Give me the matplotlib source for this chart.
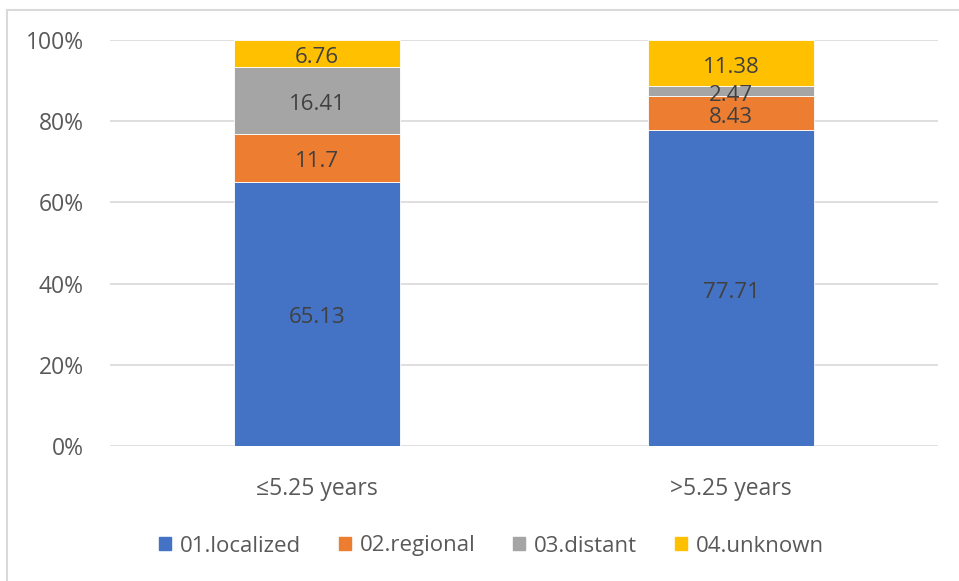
import matplotlib
matplotlib.use("Agg")
import matplotlib.pyplot as plt
from matplotlib.lines import Line2D
import numpy as np

categories = ["≤5.25 years", ">5.25 years"]
series_names = ["01.localized", "02.regional", "03.distant", "04.unknown"]
localized = [65.13, 77.71]
regional = [11.7, 8.43]
distant = [16.41, 2.47]
unknown = [6.76, 11.38]
label_text = {
    "01.localized": ["65.13", "77.71"],
    "02.regional": ["11.7", "8.43"],
    "03.distant": ["16.41", "2.47"],
    "04.unknown": ["6.76", "11.38"],
}
colors = ["#4472C4", "#ED7D31", "#A5A5A5", "#FFC000"]

plt.rcParams['font.family'] = ['Open Sans', 'DejaVu Sans']

fig = plt.figure(figsize=(9.59, 5.81), dpi=100)
W, H = 959, 581
ax = fig.add_axes([110 / W, 1 - 446 / H, (938 - 110) / W, (446 - 40) / H])

data = np.array([localized, regional, distant, unknown], dtype=float)
totals = data.sum(axis=0)
frac = data / totals
x = np.arange(len(categories))
bottom = np.zeros(len(categories))
for i, name in enumerate(series_names):
    bars = ax.bar(x, frac[i], bottom=bottom, width=0.4, color=colors[i],
                  edgecolor="white", linewidth=0.6, zorder=3, label=name)
    for j, b in enumerate(bars):
        ax.annotate(label_text[name][j], (x[j], bottom[j] + frac[i][j] / 2),
                    xytext=(0, -3), textcoords="offset points",
                    ha="center", va="center", fontsize=16, color="#404040", zorder=4)
    bottom += frac[i]

ax.set_xlim(-0.5, 1.5)
ax.set_ylim(0, 1)
ax.set_yticks(np.arange(0, 1.01, 0.2))
ax.set_yticklabels([f"{int(round(v*100))}%" for v in np.arange(0, 1.01, 0.2)])
ax.set_xticks(x)
ax.set_xticklabels(categories)
ax.tick_params(axis="both", length=0, labelsize=16.5, labelcolor="#595959")
ax.tick_params(axis="y", pad=19)
ax.tick_params(axis="x", pad=22)
ax.grid(axis="y", color="#D9D9D9", linewidth=1.2, zorder=0)
for s in ax.spines.values():
    s.set_visible(False)
ax.set_axisbelow(True)

handles = [plt.Rectangle((0, 0), 1, 1, color=c) for c in colors]
fig.legend(handles, series_names, loc="center", bbox_to_anchor=(0.5 + 12 / W, 1 - 546 / H),
           ncol=4, frameon=False, fontsize=16, labelcolor="#595959",
           handlelength=0.55, handleheight=0.55, handletextpad=0.4, columnspacing=1.7)

fig.add_artist(Line2D([7 / W, 7 / W], [0, 1 - 10 / H], transform=fig.transFigure,
                      color="#D9D9D9", linewidth=1.5))
fig.add_artist(Line2D([7 / W, 1], [1 - 10 / H, 1 - 10 / H], transform=fig.transFigure,
                      color="#D9D9D9", linewidth=1.5))

fig.savefig("out.png", dpi=100, facecolor="white")
